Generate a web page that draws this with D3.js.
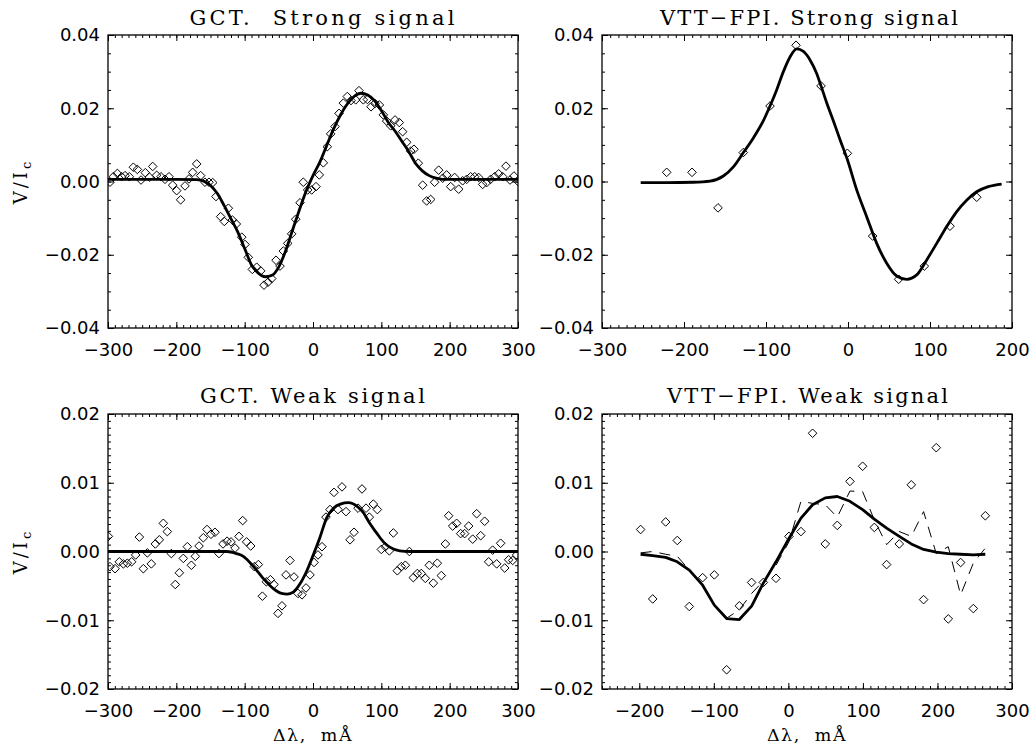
<!DOCTYPE html>
<html>
<head>
<meta charset="utf-8">
<script src="https://cdn.jsdelivr.net/npm/d3@7"></script>
<style>
  body { margin: 0; background: #fff; }
  svg { display: block; }
</style>
</head>
<body>
<div id="wrapper"></div>
<script>
// V/Ic values are kept in units of 1e-3

// GCT, strong signal
const gctStrongX = [-297.1,-292.2,-286.3,-280.0,-275.1,-268.8,-262.9,-257.1,-251.7,-245.4,-239.5,-234.6,-228.8,-222.4,-216.6,-210.7,-205.4,-199.5,-193.7,-187.3,-181.5,-176.1,-170.2,-164.4,-158.1,-152.2,-146.8,-142.0,-135.1,-129.8,-123.9,-118.0,-112.2,
  -104.3,-99.5,-94.7,-88.8,-82.4,-76.5,-71.7,-65.8,-60.4,-54.1,-48.3,-43.4,-37.0,-31.2,-25.3,-19.0,-14.2,-7.8,-1.9,4.4,9.2,15.1,20.9,25.9,32.2,38.1,44.4,50.2,55.6,62.5,67.3,73.6,79.5,84.9,90.7,97.1,102.9,107.8,113.7,120.0,126.3,131.2,137.1,143.0,147.8,154.1,
  160.5,166.3,172.2,178.0,183.9,189.8,195.6,201.5,207.3,213.2,219.0,224.9,230.7,236.6,242.4,248.3,254.1,260.0,265.9,271.7,277.6,282.4,288.3,294.1,300.0]
const gctStrongV = [-0.2,1.3,2.2,1.3,1.6,1.3,3.9,3.3,0.4,2.4,1.2,4.1,1.7,1.3,0.6,1.3,-1.0,-2.5,-5.0,-1.2,0.7,2.5,4.8,1.6,-0.2,-0.2,-0.3,-4.1,-9.6,-10.9,-7.3,-10.5,-11.6,
  -15.2,-17.2,-20.7,-24.0,-23.4,-24.4,-28.3,-27.5,-26.5,-21.5,-23.1,-19.0,-16.9,-14.3,-10.3,-5.8,-0.2,-2.3,-2.3,-1.4,1.8,5.1,9.5,13.0,15.0,18.6,21.4,23.2,22.1,22.3,24.8,22.3,22.4,20.4,21.3,20.9,18.2,16.5,15.2,16.8,16.1,13.6,10.7,8.3,8.8,5.0,
  -1.0,-5.3,-4.9,-0.2,3.1,0.9,1.8,-1.4,1.1,-2.1,0.2,0.6,1.3,1.3,1.1,-0.8,-0.3,0.6,1.3,2.1,1.3,4.2,0.4,1.5,0.0]
const gctStrongFitX = [-300,-250,-200,-170,-160,-150,-140,-130,-120,-110,-100,-90,-80,-70,-60,-50,-40,-30,-20,-10,0,10,20,30,40,50,60,70,80,90,100,110,120,130,140,150,160,170,180,190,200,250,300]
const gctStrongFitV = [0.6,0.6,0.6,0.5,0.1,-1.1,-3.3,-6.6,-10.2,-13.8,-18.3,-22.8,-25.0,-26.0,-25.6,-23.3,-18.9,-13.3,-7.8,-2.6,1.6,5.3,9.8,14.3,18.1,21.1,23.2,24.1,23.6,22.1,19.4,16.2,13.8,11.0,8.2,5.0,2.9,1.6,0.9,0.6,0.6,0.6,0.6]

// VTT-FPI, strong signal
const vttStrongX = [-221.1,-190.2,-158.5,-127.7,-95.1,-63.4,-32.9,-0.8,30.1,61.8,93.1,124.4,157.0]
const vttStrongV = [2.5,2.5,-7.2,7.9,20.6,37.2,26.1,7.7,-14.9,-26.7,-23.1,-12.2,-4.3]
const vttStrongFitX = [-252.8,-221.1,-188.6,-168.3,-152.0,-139.8,-127.6,-115.4,-103.2,-95.1,-87.0,-78.8,-70.7,-62.6,-54.4,-46.3,-38.2,-32.9,-26.0,-17.9,-9.7,-0.8,10.6,22.8,35.0,47.2,59.4,71.6,83.8,96.0,108.2,120.4,132.6,144.7,156.9,171.1,187.4]
const vttStrongFitV = [-0.3,-0.3,-0.2,0.1,1.5,4.0,7.9,11.9,16.6,20.6,25.0,30.0,34.0,36.2,35.5,33.2,29.5,26.1,21.5,16.6,11.4,6.0,-2.3,-9.6,-16.9,-22.3,-25.8,-26.7,-25.5,-21.4,-16.9,-12.3,-8.2,-5.1,-2.8,-1.4,-0.7]

// GCT, weak signal
const gctWeakX = [-299.5,-297.1,-289.7,-283.4,-277.5,-271.7,-265.4,-259.5,-254.1,-248.3,-242.4,-236.6,-230.7,-224.9,-219.0,-213.2,-207.3,-201.5,-195.6,-189.8,
  -183.9,-178.0,-172.2,-166.8,-160.5,-155.1,-149.3,-143.4,-137.6,-131.7,-125.8,-120.0,-114.1,-108.3,-102.9,-97.1,-91.2,-85.8,-80.0,-74.1,
  -68.3,-62.4,-57.1,-51.2,-45.4,-39.5,-33.7,-27.8,-22.0,-16.1,-10.2,-4.4,1.5,7.3,13.2,19.0,24.9,30.7,36.6,42.4,
  48.3,54.2,60.0,65.9,71.7,77.6,82.4,88.3,94.2,100.0,105.9,111.7,117.6,123.4,129.3,135.1,141.0,146.8,152.7,158.5,
  164.4,170.2,176.1,181.9,187.8,193.7,198.5,204.4,210.2,216.1,221.9,227.8,233.7,239.5,245.4,251.2,257.1,262.9,268.8,274.6,280.5,286.3,292.2,298.0]
const gctWeakV = [2.2,-2.2,-2.5,-1.5,-1.8,-1.7,-1.5,-0.5,2.1,-2.5,-0.2,-1.8,1.1,1.7,4.1,2.9,-0.3,-4.8,-3.1,-1.0,
  0.7,-2.0,-0.7,0.8,2.0,3.2,2.5,2.8,-0.3,1.1,1.5,1.4,0.5,2.2,4.5,1.4,0.8,-2.2,-1.9,-6.5,
  -4.4,-4.1,-4.8,-9.0,-7.9,-3.4,-1.3,-3.7,-6.1,-6.3,-5.3,-3.4,-1.6,-0.5,0.7,5.0,6.1,8.6,6.1,9.4,
  5.8,1.7,2.8,6.3,9.1,6.3,5.0,6.9,6.1,0.3,0.7,0.1,2.7,-2.8,-2.2,-2.0,0.0,-3.8,-3.2,-3.2,
  -3.9,-2.0,-4.6,-1.7,-3.5,1.1,5.2,3.7,4.1,2.6,2.6,3.7,1.8,5.5,2.3,4.4,-1.5,0.2,-1.8,1.2,-2.4,-1.2,-1.3,-0.5]
const gctWeakFitX = [-300,-200,-126,-112,-102,-87,-73,-58,-46,-38,-29,-19,-9,0,10,20,30,40,52,64,74,83,93,103,113,127,142,200,300]
const gctWeakFitV = [0,0,0,-0.3,-0.7,-2.2,-3.9,-5.4,-6.1,-6.2,-5.9,-4.7,-2.8,-0.6,2.0,4.9,6.3,6.9,7.1,6.6,5.6,4.1,2.7,1.4,0.6,0.1,0,0,0]

// VTT-FPI, weak signal
const vttWeakX = [-198.2,-182.0,-164.6,-149.0,-132.9,-115.0,-99.3,-82.8,-65.8,-49.3,-33.6,-16.6,0.8,16.9,32.5,49.5,65.6,82.6,99.6,115.3,131.8,148.8,164.9,181.4,198.4,214.5,231.1,248.1,264.2]
const vttWeakV = [3.2,-6.9,4.3,1.6,-8.0,-3.8,-3.4,-17.2,-7.9,-4.5,-4.5,-3.9,2.2,2.9,17.2,1.1,3.8,10.2,12.4,3.5,-1.9,1.1,9.7,-7.0,15.1,-9.8,-1.6,-8.3,5.2]
const vttWeakFitV = [-0.4,-0.6,-0.85,-1.5,-2.7,-4.9,-7.8,-9.75,-9.9,-7.95,-4.6,-1.5,1.9,4.85,6.8,7.8,8.0,7.3,6.1,4.7,3.4,2.2,1.1,0.3,-0.1,-0.3,-0.4,-0.5,-0.4]
const vttWeakDashV = [-0.2,0.0,-0.4,-0.7,-2.7,-4.9,-7.8,-9.7,-8.5,-6.1,-4.3,-2.0,1.4,7.3,7.0,6.8,5.0,8.8,8.7,4.6,1.0,2.9,2.2,5.8,-0.3,0.7,-6.3,-1.7,0.5]

// ticks and labels
const gctXTicks = [-300,-200,-100,0,100,200,300]
const gctXLabels = ["\u2212300","\u2212200","\u2212100","0","100","200","300"]
const vttStrongXTicks = [-300,-200,-100,0,100,200]
const vttStrongXLabels = ["\u2212300","\u2212200","\u2212100","0","100","200"]
const vttWeakXTicks = [-200,-100,0,100,200,300]
const vttWeakXLabels = ["\u2212200","\u2212100","0","100","200","300"]
const strongYTicks = [-40,-20,0,20,40]
const strongYLabels = ["\u22120.04","\u22120.02","0.00","0.02","0.04"]
const weakYTicks = [-20,-10,0,10,20]
const weakYLabels = ["\u22120.02","\u22120.01","0.00","0.01","0.02"]

const titles = ["GCT.  Strong signal", "VTT\u2212FPI. Strong signal", "GCT. Weak signal", "VTT\u2212FPI. Weak signal"]

// layout
const panels = [
  { left: 108, right: 518, top: 35, bottom: 328, xDomain: [-300, 300], yDomain: [-40, 40], yMinor: 5,
    xTicks: gctXTicks, xLabels: gctXLabels, yTicks: strongYTicks, yLabels: strongYLabels,
    title: titles[0], titleX: 322, titleY: 25, titleLen: 265, yTitle: true, xTitle: false,
    px: gctStrongX, pv: gctStrongV, fx: gctStrongFitX, fv: gctStrongFitV, smooth: true },
  { left: 602, right: 1012, top: 35, bottom: 328, xDomain: [-300, 200], yDomain: [-40, 40], yMinor: 5,
    xTicks: vttStrongXTicks, xLabels: vttStrongXLabels, yTicks: strongYTicks, yLabels: strongYLabels,
    title: titles[1], titleX: 809, titleY: 25, titleLen: 298, yTitle: false, xTitle: false,
    px: vttStrongX, pv: vttStrongV, fx: vttStrongFitX, fv: vttStrongFitV, smooth: true },
  { left: 108, right: 518, top: 414, bottom: 689, xDomain: [-300, 300], yDomain: [-20, 20], yMinor: 1,
    xTicks: gctXTicks, xLabels: gctXLabels, yTicks: weakYTicks, yLabels: weakYLabels,
    title: titles[2], titleX: 312.5, titleY: 403, titleLen: 225, yTitle: true, xTitle: true,
    px: gctWeakX, pv: gctWeakV, fx: gctWeakFitX, fv: gctWeakFitV, smooth: true },
  { left: 602, right: 1012, top: 414, bottom: 689, xDomain: [-250, 300], yDomain: [-20, 20], yMinor: 1,
    xTicks: vttWeakXTicks, xLabels: vttWeakXLabels, yTicks: weakYTicks, yLabels: weakYLabels,
    title: titles[3], titleX: 807.5, titleY: 403, titleLen: 281, yTitle: false, xTitle: true,
    px: vttWeakX, pv: vttWeakV, fx: vttWeakX, fv: vttWeakFitV, smooth: false, dx: vttWeakX, dv: vttWeakDashV },
]

const svg = d3.select("#wrapper")
  .append("svg")
  .attr("width", 1034)
  .attr("height", 749)

svg.append("rect").attr("width", 1034).attr("height", 749).attr("fill", "#fff")

const diamond = "M0,-4.3L4.3,0L0,4.3L-4.3,0Z"

function styleAxis(sel) {
  sel.select(".domain").remove()
  sel.selectAll(".tick line").attr("stroke", "#000").attr("stroke-width", 1)
  sel.attr("font-family", "'DejaVu Sans', sans-serif").attr("font-size", 18)
  sel.selectAll(".tick text").attr("fill", "#000")
}

panels.forEach((p, i) => {
  const xScale = d3.scaleLinear().domain(p.xDomain).range([p.left, p.right])
  const yScale = d3.scaleLinear().domain(p.yDomain).range([p.bottom, p.top])
  const g = svg.append("g")

  g.append("clipPath").attr("id", "clip" + i)
    .append("rect")
    .attr("x", p.left).attr("y", p.top)
    .attr("width", p.right - p.left).attr("height", p.bottom - p.top)

  const xMinor = d3.range(p.xDomain[0], p.xDomain[1] + 0.5, 10)
  const yMinor = d3.range(p.yDomain[0], p.yDomain[1] + 0.01, p.yMinor)

  // minor ticks on all four sides
  g.append("g").attr("transform", `translate(0,${p.bottom})`)
    .call(d3.axisBottom(xScale).tickValues(xMinor).tickSize(-3).tickFormat("")).call(styleAxis)
  g.append("g").attr("transform", `translate(0,${p.top})`)
    .call(d3.axisTop(xScale).tickValues(xMinor).tickSize(-3).tickFormat("")).call(styleAxis)
  g.append("g").attr("transform", `translate(${p.left},0)`)
    .call(d3.axisLeft(yScale).tickValues(yMinor).tickSize(-3).tickFormat("")).call(styleAxis)
  g.append("g").attr("transform", `translate(${p.right},0)`)
    .call(d3.axisRight(yScale).tickValues(yMinor).tickSize(-3).tickFormat("")).call(styleAxis)

  // major ticks
  g.append("g").attr("transform", `translate(0,${p.bottom})`)
    .call(d3.axisBottom(xScale).tickValues(p.xTicks).tickSizeInner(-6).tickSizeOuter(0)
      .tickPadding(15).tickFormat((d, k) => p.xLabels[k])).call(styleAxis)
  g.append("g").attr("transform", `translate(0,${p.top})`)
    .call(d3.axisTop(xScale).tickValues(p.xTicks).tickSize(-6).tickFormat("")).call(styleAxis)
  g.append("g").attr("transform", `translate(${p.left},0)`)
    .call(d3.axisLeft(yScale).tickValues(p.yTicks).tickSizeInner(-6).tickSizeOuter(0)
      .tickPadding(8).tickFormat((d, k) => p.yLabels[k])).call(styleAxis)
  g.append("g").attr("transform", `translate(${p.right},0)`)
    .call(d3.axisRight(yScale).tickValues(p.yTicks).tickSize(-6).tickFormat("")).call(styleAxis)

  // frame
  g.append("rect")
    .attr("x", p.left).attr("y", p.top)
    .attr("width", p.right - p.left).attr("height", p.bottom - p.top)
    .attr("fill", "none").attr("stroke", "#000").attr("stroke-width", 1.3)

  const plot = g.append("g").attr("clip-path", `url(#clip${i})`)

  const line = d3.line()
    .x(d => xScale(d[0]))
    .y(d => yScale(d[1]))
    .curve(p.smooth ? d3.curveMonotoneX : d3.curveLinear)

  if (p.dx) {
    plot.append("path")
      .datum(d3.zip(p.dx, p.dv))
      .attr("d", d3.line().x(d => xScale(d[0])).y(d => yScale(d[1])))
      .attr("fill", "none").attr("stroke", "#000")
      .attr("stroke-width", 1).attr("stroke-dasharray", "11,8")
  }

  plot.append("path")
    .datum(d3.zip(p.fx, p.fv))
    .attr("d", line)
    .attr("fill", "none").attr("stroke", "#000")
    .attr("stroke-width", 2.8).attr("stroke-linejoin", "round")

  plot.selectAll(".pt")
    .data(d3.zip(p.px, p.pv))
    .join("path")
      .attr("class", "pt")
      .attr("d", diamond)
      .attr("transform", d => `translate(${xScale(d[0])},${yScale(d[1])})`)
      .attr("fill", "none").attr("stroke", "#000").attr("stroke-width", 1)

  // title
  svg.append("text")
    .attr("x", p.titleX).attr("y", p.titleY)
    .attr("text-anchor", "middle")
    .attr("textLength", p.titleLen).attr("lengthAdjust", "spacing")
    .style("white-space", "pre")
    .attr("font-family", "'DejaVu Serif', serif").attr("font-size", 21)
    .text(p.title)

  if (p.yTitle) {
    const cy = (p.top + p.bottom) / 2
    const t = svg.append("text")
      .attr("transform", `translate(27,${cy}) rotate(-90)`)
      .attr("text-anchor", "middle")
      .attr("font-family", "'DejaVu Serif', serif").attr("font-size", 18)
      .attr("letter-spacing", 3)
    t.append("tspan").text("V/I")
    t.append("tspan").attr("font-size", 13).attr("dy", 4).text("c")
  }

  if (p.xTitle) {
    svg.append("text")
      .attr("x", (p.left + p.right) / 2).attr("y", 740.5)
      .attr("text-anchor", "middle")
      .attr("font-family", "'DejaVu Serif', serif").attr("font-size", 17.5)
      .attr("letter-spacing", 1.5)
      .style("white-space", "pre")
      .text("\u0394\u03bb,  m\u00c5")
  }
})
</script>
</body>
</html>
